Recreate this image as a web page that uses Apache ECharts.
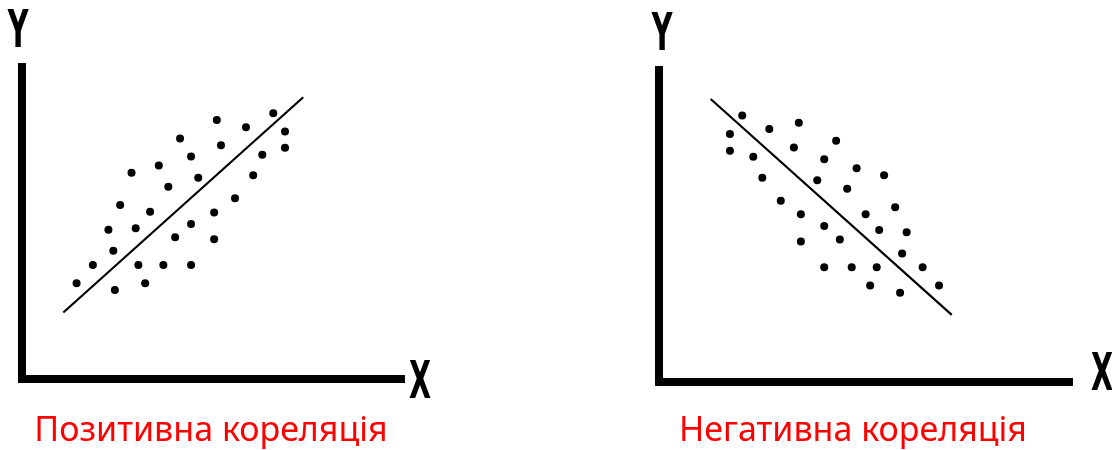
<!DOCTYPE html>
<html lang="uk" style="height: 100%">
<head>
  <meta charset="UTF-8">
  <title>Кореляція</title>
  <script src="https://cdn.jsdelivr.net/npm/echarts@6/dist/echarts.min.js"></script>
</head>
<body style="height: 100%; margin: 0; background: #fff;">
  <div id="main" style="width: 1112px; height: 450px;"></div>

  <script>
  // точки позитивної кореляції (x, y у відсотках від осей)
  const posX = [14.4, 18.7, 24.5, 24.1, 22.8, 25.9, 28.9, 30.0, 30.7, 32.5, 33.8, 36.1, 37.3, 38.6, 40.4, 41.7,
                44.6, 44.6, 44.6, 46.5, 50.7, 50.7, 51.4, 52.5, 56.2, 59.1, 61.0, 63.4, 66.3, 69.4, 69.4];
  const posY = [30.7, 36.5, 28.5, 41.1, 47.8, 55.8, 66.1, 48.3, 36.5, 30.7, 53.6, 68.4, 36.5, 61.6, 45.4, 77.1,
                71.3, 49.7, 36.5, 64.5, 53.4, 44.8, 83.0, 74.9, 57.9, 80.7, 65.3, 71.9, 85.2, 79.3, 74.1];
  const posLineX = [10.9, 74.2];
  const posLineY = [21.3, 90.3];

  // точки негативної кореляції
  const negX = [20.3, 17.3, 17.3, 26.9, 34.1, 32.9, 23.0, 25.2, 29.7, 40.3, 43.2, 38.6, 45.9, 48.2, 54.9, 34.6,
                34.6, 40.3, 44.1, 50.4, 53.7, 57.6, 60.4, 59.3, 40.3, 47.0, 53.1, 64.3, 51.5, 58.8, 68.3];
  const negY = [85.4, 79.5, 74.1, 81.1, 83.1, 75.2, 72.2, 65.5, 58.1, 71.4, 77.3, 64.7, 61.9, 68.5, 66.3, 53.8,
                45.0, 50.0, 45.7, 53.8, 48.7, 56.0, 48.0, 41.2, 36.8, 36.8, 36.8, 36.8, 30.9, 28.6, 30.9];
  const negLineX = [12.6, 71.4];
  const negLineY = [90.7, 21.5];

  const captions = ['Позитивна кореляція', 'Негативна кореляція'];

  const zip = (xs, ys) => xs.map((x, i) => [x, ys[i]]);

  const chart = echarts.init(document.getElementById('main'));

  const axisCommon = {
    type: 'value',
    min: 0,
    max: 100,
    axisLine: { show: true, lineStyle: { color: '#000', width: 8, cap: 'square' } },
    axisTick: { show: false },
    axisLabel: { show: false },
    splitLine: { show: false }
  };

  const axisText = (text, x, y) => ({
    type: 'text',
    x: x,
    y: y,
    scaleX: 0.55,
    style: {
      text: text,
      font: 'bold 52px "DejaVu Sans"',
      fill: '#000',
      align: 'center',
      verticalAlign: 'middle'
    }
  });

  const captionText = (text, x) => ({
    type: 'text',
    x: x,
    y: 431,
    style: {
      text: text,
      font: '34px "Noto Sans"',
      fill: '#ff0000',
      align: 'center',
      verticalAlign: 'middle'
    }
  });

  const dotStyle = { color: '#000', opacity: 1 };

  chart.setOption({
    animation: false,
    grid: [
      { left: 22, top: 67, width: 379, height: 312 },
      { left: 659, top: 70, width: 410, height: 312 }
    ],
    xAxis: [
      Object.assign({ gridIndex: 0 }, axisCommon),
      Object.assign({ gridIndex: 1 }, axisCommon)
    ],
    yAxis: [
      Object.assign({ gridIndex: 0 }, axisCommon),
      Object.assign({ gridIndex: 1 }, axisCommon)
    ],
    series: [
      {
        type: 'scatter', xAxisIndex: 0, yAxisIndex: 0,
        symbolSize: 8, itemStyle: dotStyle,
        data: zip(posX, posY)
      },
      {
        type: 'line', xAxisIndex: 0, yAxisIndex: 0,
        showSymbol: false, lineStyle: { color: '#000', width: 2.2 },
        data: zip(posLineX, posLineY)
      },
      {
        type: 'scatter', xAxisIndex: 1, yAxisIndex: 1,
        symbolSize: 8, itemStyle: dotStyle,
        data: zip(negX, negY)
      },
      {
        type: 'line', xAxisIndex: 1, yAxisIndex: 1,
        showSymbol: false, lineStyle: { color: '#000', width: 2.2 },
        data: zip(negLineX, negLineY)
      }
    ],
    graphic: [
      axisText('Y', 18, 33),
      axisText('X', 420, 384),
      axisText('Y', 662, 36),
      axisText('X', 1102, 376),
      captionText(captions[0], 211),
      captionText(captions[1], 853)
    ]
  });

  window.addEventListener('resize', function () {
    chart.resize();
  });
  </script>
</body>
</html>
